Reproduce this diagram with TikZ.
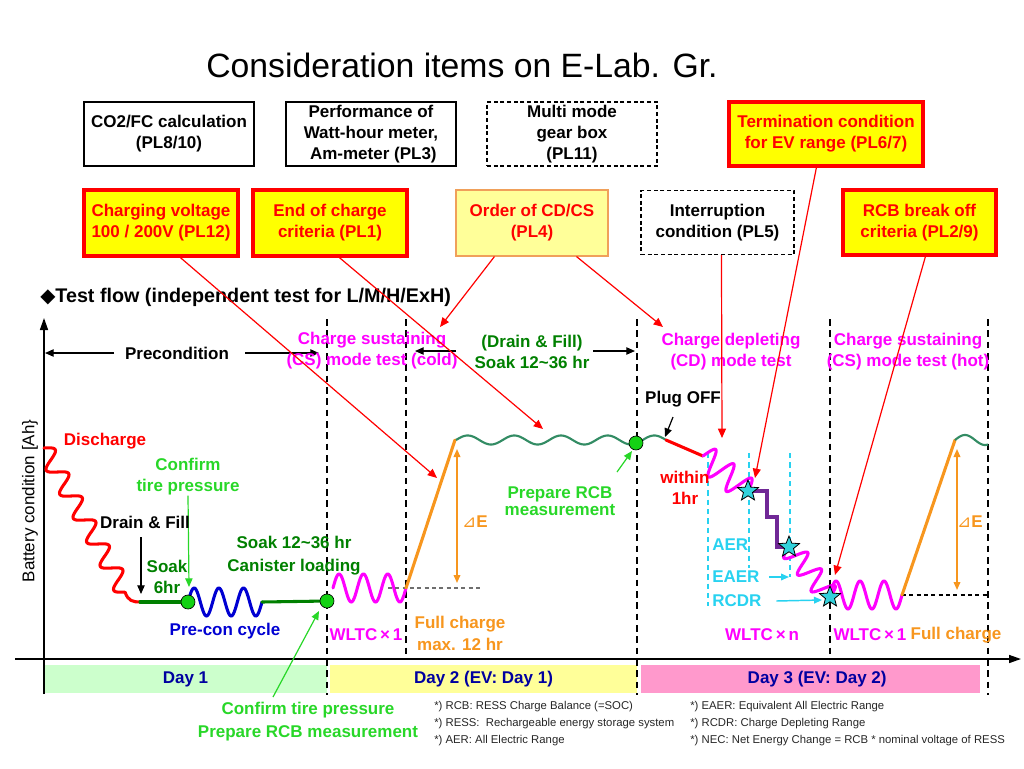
\documentclass[tikz,border=0pt]{standalone}
\usepackage{fontspec}
\setmainfont{Liberation Sans}
\newfontfamily\djv{DejaVu Sans}
\usetikzlibrary{arrows.meta,shapes.geometric}

\definecolor{cRed}{RGB}{255,0,0}
\definecolor{cYel}{RGB}{255,255,0}
\definecolor{cLYel}{RGB}{255,255,153}
\definecolor{cOrBord}{RGB}{240,160,90}
\definecolor{cMag}{RGB}{255,0,255}
\definecolor{cDGreen}{RGB}{0,128,0}
\definecolor{cBGreen}{RGB}{40,215,40}
\definecolor{cDot}{RGB}{20,210,20}
\definecolor{cTeal}{RGB}{51,140,100}
\definecolor{cOrange}{RGB}{247,150,30}
\definecolor{cBlue}{RGB}{0,0,210}
\definecolor{cNavy}{RGB}{0,0,160}
\definecolor{cCyan}{RGB}{40,210,240}
\definecolor{cStar}{RGB}{50,210,220}
\definecolor{cPurple}{RGB}{112,40,150}
\definecolor{cDayA}{RGB}{204,255,204}
\definecolor{cDayB}{RGB}{255,255,153}
\definecolor{cDayC}{RGB}{255,153,204}
\definecolor{cGrayDash}{RGB}{110,110,110}

\newcommand\lblfont{\fontsize{12.75}{15.75}\selectfont\bfseries}

\begin{document}
\begin{tikzpicture}[x=0.75pt,y=-0.75pt,
 lbl/.style={font=\lblfont, align=center, inner sep=0pt},
 wbox/.style={draw=black, line width=0.8pt, fill=white, align=center, font=\lblfont, inner sep=0pt},
 dbox/.style={wbox, dash pattern=on 3pt off 2pt},
 rbox/.style={draw=cRed, line width=2.4pt, fill=cYel, text=cRed, align=center, font=\lblfont, inner sep=0pt},
 obox/.style={draw=cOrBord, line width=0.8pt, fill=cLYel, text=cRed, align=center, font=\lblfont, inner sep=0pt},
 sz/.style 2 args={minimum width=#1*0.75pt, minimum height=#2*0.75pt},
 redarr/.style={draw=cRed, line width=0.9pt, -{Triangle[length=7pt,width=6pt]}},
 blkarr/.style={draw=black, line width=0.9pt, -{Triangle[length=6.5pt,width=5.5pt]}},
 grnarr/.style={draw=cBGreen, line width=0.9pt, -{Triangle[length=6.5pt,width=5.5pt]}},
 cyarr/.style={draw=cCyan, line width=1.1pt, -{Triangle[length=6pt,width=5pt]}},
 orarr/.style={draw=cOrange, line width=1.1pt, {Triangle[length=6pt,width=5pt]}-{Triangle[length=6pt,width=5pt]}},
 axisln/.style={draw=black, line width=1.1pt, -{Triangle[length=9pt,width=6pt]}},
 vdash/.style={draw=black, line width=1.3pt, dash pattern=on 5pt off 3.5pt},
 cydash/.style={draw=cCyan, line width=1.1pt, dash pattern=on 4pt off 3pt},
 thk/.style={line width=2.3pt, line cap=round, line join=round},
 gdot/.style={circle, draw=black, line width=0.5pt, fill=cDot, minimum size=10.5pt, inner sep=0pt},
 strs/.style={star, star points=5, star point ratio=2.3, draw=black, line width=0.6pt, fill=cStar, minimum size=16.5pt, inner sep=0pt},
 daybar/.style={fill=#1, draw=none, text=cNavy, font=\lblfont, inner sep=0pt},
]
\useasboundingbox (0,0) rectangle (1024,768);

% title
\node[font=\fontsize{25.3}{30}\selectfont] (title) at (462,65) {Consideration items on E-Lab. Gr.};

% boxes
\node[wbox, sz={170}{64}] (b1) at (169,134) {CO2/FC calculation\\(PL8/10)};
\node[wbox, sz={170}{64}] (b2) at (371,134) {Performance of\\Watt-hour meter,\\\ Am-meter (PL3)};
\node[dbox, sz={170}{64}] (b3) at (572,134) {Multi mode\\gear box\\(PL11)};
\node[rbox, sz={194}{64}] (b4) at (826,134) {Termination condition\\for EV range (PL6/7)};
\node[rbox, sz={154}{66}] (b5) at (161,223) {Charging voltage\\100 / 200V (PL12)};
\node[rbox, sz={154}{66}] (b6) at (330,223) {End of charge\\criteria (PL1)};
\node[obox, sz={152}{66}] (b7) at (532,223) {Order of CD/CS\\(PL4)};
\node[dbox, sz={153}{64}] (b8) at (717.5,222.5) {Interruption\\condition (PL5)};
\node[rbox, sz={153}{65}] (b9) at (919.5,222.5) {RCB break off\\criteria (PL2/9)};

% heading
\node[anchor=west, font=\fontsize{14.8}{18}\selectfont\bfseries, inner sep=0pt] (head) at (40,297) {{\djv\mdseries ◆}Test flow (independent test for L/M/H/ExH)};

% day bars
\node[daybar=cDayA, sz={283}{28}] (d1) at (185.5,679) {Day 1};
\node[daybar=cDayB, sz={307}{28}] (d2) at (483.5,679) {Day 2 (EV: Day 1)};
\node[daybar=cDayC, sz={339}{28}] (d3) at (810.5,679) {\hspace*{10pt}Day 3 (EV: Day 2)};

% dashed verticals
\draw[vdash] (327,319) -- (327,695);
\draw[vdash] (406,319) -- (406,660);
\draw[vdash] (637,319) -- (637,695);
\draw[vdash] (830,319) -- (830,660);
\draw[vdash] (988,319) -- (988,695);

% axes
\draw[axisln] (44,694) -- (44,318);
\draw[axisln] (15,659) -- (1021,659);
\node[rotate=90, font=\fontsize{12.75}{15}\selectfont, inner sep=0pt] (ylab) at (30,501) {Battery condition [Ah\}};

% top-of-chart labels
\node[lbl] (prec) at (177,353) {Precondition};
\coordinate (precL) at (45,353);
\coordinate (precR) at (319,353);
\draw[blkarr] ([xshift=-8pt]prec.west) -- (precL);
\draw[blkarr] ([xshift=12pt]prec.east) -- (precR);
\node[lbl, text=cMag] (cscold) at (372,351) {Charge sustaining\\(CS) mode test (cold)};
\node[lbl, text=cDGreen] (dfsoak) at (532,352) {(Drain \& Fill)\\Soak 12\textasciitilde36 hr};
\coordinate (dfLa) at (456,351); \coordinate (dfLb) at (415,351);
\coordinate (dfRa) at (593,351); \coordinate (dfRb) at (635,351);
\draw[blkarr] (dfLa) -- (dfLb);
\draw[blkarr] (dfRa) -- (dfRb);
\node[lbl, text=cMag] (cd) at (731,352) {Charge depleting\\(CD) mode test};
\node[lbl, text=cMag] (cshot) at (908,352) {Charge sustaining\\(CS) mode test (hot)};

% ---- Day 1 curves
\draw[cRed, thk] plot[domain=0:1, samples=150, smooth] ({44+81*\x+0.872*9*sin(2160*\x)}, {448+144*\x-0.490*9*sin(2160*\x)});
\draw[cRed, thk] (125,592) .. controls (128,601) and (133,602) .. (140,602);
\draw[cDGreen, thk] (140,602) -- (188,602);
\draw[cBlue, thk] plot[domain=188:262, samples=120, smooth] (\x, {602-14*sin((\x-188)*14.594)});
\draw[cDGreen, thk] (262,602) -- (327,601);
\node[gdot] (g1) at (188,602) {};
\node[gdot] (g2) at (327,601) {};

\node[lbl, text=cRed] (disch) at (105,441) {Discharge};
\node[lbl, text=cBGreen] (conf) at (188,477) {Confirm\\tire pressure};
\coordinate (confT) at (189,587);
\draw[grnarr] (conf.south) -- (confT);
\node[lbl] (drain) at (145,522) {Drain \& Fill};
\coordinate (drainS) at (141,537); \coordinate (drainT) at (141,594);
\draw[blkarr] (drainS) -- (drainT);
\node[lbl, text=cDGreen] (soaksix) at (167,577) {Soak\\6hr};
\node[lbl, text=cDGreen] (soaklong) at (294,542) {Soak 12\textasciitilde36 hr};
\node[lbl, text=cDGreen] (canis) at (294,567) {Canister loading};
\node[lbl, text=cBlue] (precon) at (225,631) {Pre-con cycle};

% ---- Day 2 curves
\draw[cMag, thk] plot[domain=333:406, samples=120, smooth] (\x, {588-14*sin((\x-333)*14.797)});
\draw[cGrayDash, line width=0.9pt, dash pattern=on 3pt off 2.5pt] (388,588) -- (480,588);
\draw[cOrange, thk] (406,588) -- (455,440);
\coordinate (dEat) at (457,449); \coordinate (dEab) at (457,583);
\draw[orarr] (dEat) -- (dEab);
\node[lbl, text=cOrange] (dEa) at (475,522) {{\djv\mdseries ⊿}E};
\draw[cTeal, line width=1.6pt] plot[domain=456:666, samples=200, smooth] (\x, {440-4.5*sin((\x-456)*7.714)});
\node[gdot] (g3) at (636,443) {};
\node[lbl, text=cBGreen, font=\fontsize{12.75}{12.75}\selectfont\bfseries] (prep) at (560,501) {Prepare RCB\\measurement};
\coordinate (prepS) at (617,472); \coordinate (prepT) at (632,451);
\draw[grnarr] (prepS) -- (prepT);
\node[lbl, text=cOrange, font=\fontsize{12.75}{16.5}\selectfont\bfseries] (fullc) at (460,633) {Full charge\\max. 12 hr};
\node[lbl, text=cMag] (wltca) at (366,635) {WLTC\,×\,1};

% bottom green label
\node[lbl, text=cBGreen, font=\fontsize{12.75}{17.25}\selectfont\bfseries] (bconf) at (308,722) {Confirm tire pressure\\Prepare RCB measurement};
\coordinate (bconfS) at (273,697); \coordinate (gtwoT) at (319,611);
\draw[grnarr] (bconfS) -- (gtwoT);

% ---- Day 3 curves
\draw[cRed, thk] (666,440) -- (703,456);
\node[lbl] (plug) at (683,399) {Plug OFF};
\coordinate (plugS) at (673,417); \coordinate (plugT) at (665,437);
\draw[blkarr] (plugS) -- (plugT);

\draw[cydash] (708,453) -- (708,606);
\draw[cydash] (749,453) -- (749,568);
\draw[cydash] (790,453) -- (790,577);

\draw[cMag, thk] plot[domain=0:1, samples=100, smooth] ({703+45*\x+0.625*13*sin(900*\x)}, {456+36*\x-0.781*13*sin(900*\x)});
\draw[cPurple, line width=2.3pt, line join=miter] (748,491) -- (767,491) -- (767,517) -- (777,517) -- (777,547) -- (789,547);
\draw[cMag, thk] plot[domain=0:1, samples=100, smooth] ({789+41*\x-0.773*11*sin(1080*\x)}, {547+50*\x+0.634*11*sin(1080*\x)});
\draw[cMag, thk] plot[domain=830:902, samples=120, smooth] (\x, {595-14*sin((\x-830)*15)});
\draw[black, line width=0.9pt, dash pattern=on 3pt off 2.5pt] (902,595) -- (988,595);
\draw[cOrange, thk] (902,595) -- (955,440);
\draw[cTeal, line width=1.6pt] plot[domain=955:988, samples=50, smooth] (\x, {440-5*sin((\x-955)*9)});
\coordinate (dEbt) at (957,449); \coordinate (dEbb) at (957,590);
\draw[orarr] (dEbt) -- (dEbb);
\node[lbl, text=cOrange] (dEb) at (970,522) {{\djv\mdseries ⊿}E};

\node[lbl, text=cCyan, anchor=west] (aer) at (712,545) {AER};
\node[lbl, text=cCyan, anchor=west] (eaer) at (712,577) {EAER};
\node[lbl, text=cCyan, anchor=west] (rcdr) at (712,601) {RCDR};
\coordinate (eaerT) at (789,577); \coordinate (rcdrT) at (822,600);
\draw[cyarr] ([xshift=7pt]eaer.east) -- (eaerT);
\draw[cyarr] ([xshift=11pt]rcdr.east) -- (rcdrT);

\node[strs] (sa) at (748,491) {};
\node[strs] (sb) at (789,547) {};
\node[strs] (sc) at (830,597) {};

\node[lbl, text=cRed] (within) at (685,488) {within\\1hr};
\node[lbl, text=cMag] (wltcn) at (762,635) {WLTC\,×\,n};
\node[lbl, text=cMag] (wltcb) at (870,635) {WLTC\,×\,1};
\node[lbl, text=cOrange] (fullcb) at (956,635) {Full charge};

% ---- red connectors from boxes
\coordinate (tfive) at (437,478);
\coordinate (tsix) at (543,429);
\coordinate (tsevA) at (440,327);
\coordinate (tsevB) at (663,327);
\coordinate (teight) at (722,438);
\coordinate (tfour) at (755,478);
\coordinate (tnine) at (835,575);
\draw[redarr] (b5.south west) ++(98,0) -- (tfive);
\draw[redarr] (b6.south west) ++(88,0) -- (tsix);
\draw[redarr] (b7.south west) ++(39,0) -- (tsevA);
\draw[redarr] (b7.south west) ++(121,0) -- (tsevB);
\draw[redarr] (b8.south west) ++(81,0) -- (teight);
\draw[redarr] (b4.south west) ++(89,0) -- (tfour);
\draw[redarr] (b9.south west) ++(84,0) -- (tnine);

% footnotes
\node[anchor=west, font=\fontsize{8.5}{12.75}\selectfont, align=left, inner sep=0pt, text=black!85] (fna) at (434,724) {*) RCB: RESS Charge Balance (=SOC)\\*) RESS:\ \ Rechargeable energy storage system\\*) AER: All Electric Range};
\node[anchor=west, font=\fontsize{8.5}{12.75}\selectfont, align=left, inner sep=0pt, text=black!85] (fnb) at (690,724) {*) EAER: Equivalent All Electric Range\\*) RCDR: Charge Depleting Range\\*) NEC: Net Energy Change = RCB * nominal voltage of RESS};
\end{tikzpicture}
\end{document}
